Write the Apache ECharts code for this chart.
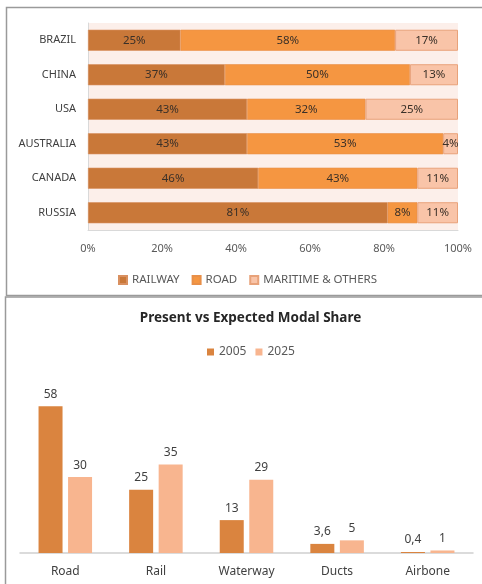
<!DOCTYPE html>
<html>
<head>
<meta charset="utf-8">
<script src="https://cdn.jsdelivr.net/npm/echarts@6/dist/echarts.min.js"></script>
<style>
html,body{margin:0;padding:0;background:#fff;}
#c{width:482px;height:584px;}
</style>
</head>
<body>
<div id="c"></div>
<script>
// Top chart data
const countries = ['BRAZIL', 'CHINA', 'USA', 'AUSTRALIA', 'CANADA', 'RUSSIA'];
const railway = [25, 37, 43, 43, 46, 81];
const road = [58, 50, 32, 53, 43, 8];
const maritime = [17, 13, 25, 4, 11, 11];
const pctTicks = ['0%', '20%', '40%', '60%', '80%', '100%'];

// Bottom chart data
const modes = ['Road', 'Rail', 'Waterway', 'Ducts', 'Airbone'];
const y2005 = [58, 25, 13, 3.6, 0.4];
const y2025 = [30, 35, 29, 5, 1];

const FONT = 'Noto Sans';
const chart = echarts.init(document.getElementById('c'), null, {renderer: 'canvas'});

const pctLabel = {
  show: true, position: 'inside', fontFamily: FONT, fontSize: 11.5, color: '#3a3028',
  formatter: p => p.value + '%'
};
const numLabel = {
  show: true, position: 'top', distance: 6, fontFamily: FONT, fontSize: 12, color: '#404040',
  formatter: p => String(p.value).replace('.', ',')
};

chart.setOption({
  animation: false,
  textStyle: {fontFamily: FONT},
  title: {
    text: 'Present vs Expected Modal Share',
    left: 245.5, top: 306, textAlign: 'center',
    textStyle: {fontFamily: FONT, fontSize: 13.5, fontWeight: 'bold', color: '#262626'}
  },
  graphic: [
    {type: 'rect', shape: {x: 6.5, y: 7.5, width: 490, height: 288}, style: {fill: 'none', stroke: '#9a9a9a', lineWidth: 1.5}, silent: true},
    {type: 'rect', shape: {x: 5.5, y: 297, width: 490, height: 300}, style: {fill: 'none', stroke: '#9a9a9a', lineWidth: 1.5}, silent: true}
  ],
  legend: [
    {
      data: ['RAILWAY', 'ROAD', 'MARITIME & OTHERS'],
      left: 113, top: 269, icon: 'rect', itemWidth: 8, itemHeight: 8, itemGap: 12,
      textStyle: {fontFamily: FONT, fontSize: 11.5, color: '#595959'}
    },
    {
      data: ['2005', '2025'],
      left: 202, top: 341, icon: 'rect', itemWidth: 7, itemHeight: 7, itemGap: 9,
      textStyle: {fontFamily: FONT, fontSize: 12, color: '#595959'}
    }
  ],
  grid: [
    {left: 88, right: 24, top: 23, height: 207, show: true, backgroundColor: '#fcefea', borderWidth: 0},
    {left: 20, right: 9, top: 401.2, bottom: 31}
  ],
  xAxis: [
    {
      type: 'value', gridIndex: 0, min: 0, max: 100, interval: 20,
      splitLine: {show: false}, axisTick: {show: false},
      axisLine: {show: true, lineStyle: {color: '#d9d9d9', width: 1}},
      axisLabel: {fontFamily: FONT, fontSize: 11, color: '#595959', margin: 13,
        formatter: v => pctTicks[v / 20]}
    },
    {
      type: 'category', gridIndex: 1, data: modes,
      axisTick: {show: false},
      axisLine: {show: true, lineStyle: {color: '#d0d0d0', width: 1.5}},
      axisLabel: {fontFamily: FONT, fontSize: 12, color: '#404040', margin: 13}
    }
  ],
  yAxis: [
    {
      type: 'category', gridIndex: 0, data: countries, inverse: true,
      axisTick: {show: false},
      axisLine: {show: true, lineStyle: {color: '#d9d9d9', width: 1}},
      axisLabel: {fontFamily: FONT, fontSize: 11, color: '#404040', margin: 12}
    },
    {
      type: 'value', gridIndex: 1, min: 0, max: 60, show: false, splitLine: {show: false}
    }
  ],
  series: [
    {name: 'RAILWAY', type: 'bar', stack: 'a', xAxisIndex: 0, yAxisIndex: 0, data: railway,
      barCategoryGap: '39%', itemStyle: {color: '#c97839', borderColor: '#d99060', borderWidth: 0.6}, label: pctLabel},
    {name: 'ROAD', type: 'bar', stack: 'a', xAxisIndex: 0, yAxisIndex: 0, data: road,
      barCategoryGap: '39%', itemStyle: {color: '#f59641', borderColor: '#e88f48', borderWidth: 0.6}, label: pctLabel},
    {name: 'MARITIME & OTHERS', type: 'bar', stack: 'a', xAxisIndex: 0, yAxisIndex: 0, data: maritime,
      barCategoryGap: '39%', itemStyle: {color: '#f9c4a8', borderColor: '#e8a27a', borderWidth: 1}, label: pctLabel},
    {name: '2005', type: 'bar', xAxisIndex: 1, yAxisIndex: 1, data: y2005,
      barWidth: 24, barGap: '23%', itemStyle: {color: '#da843f'}, label: numLabel},
    {name: '2025', type: 'bar', xAxisIndex: 1, yAxisIndex: 1, data: y2025,
      barWidth: 24, barGap: '23%', itemStyle: {color: '#f8b58f'}, label: numLabel}
  ]
});
</script>
</body>
</html>
